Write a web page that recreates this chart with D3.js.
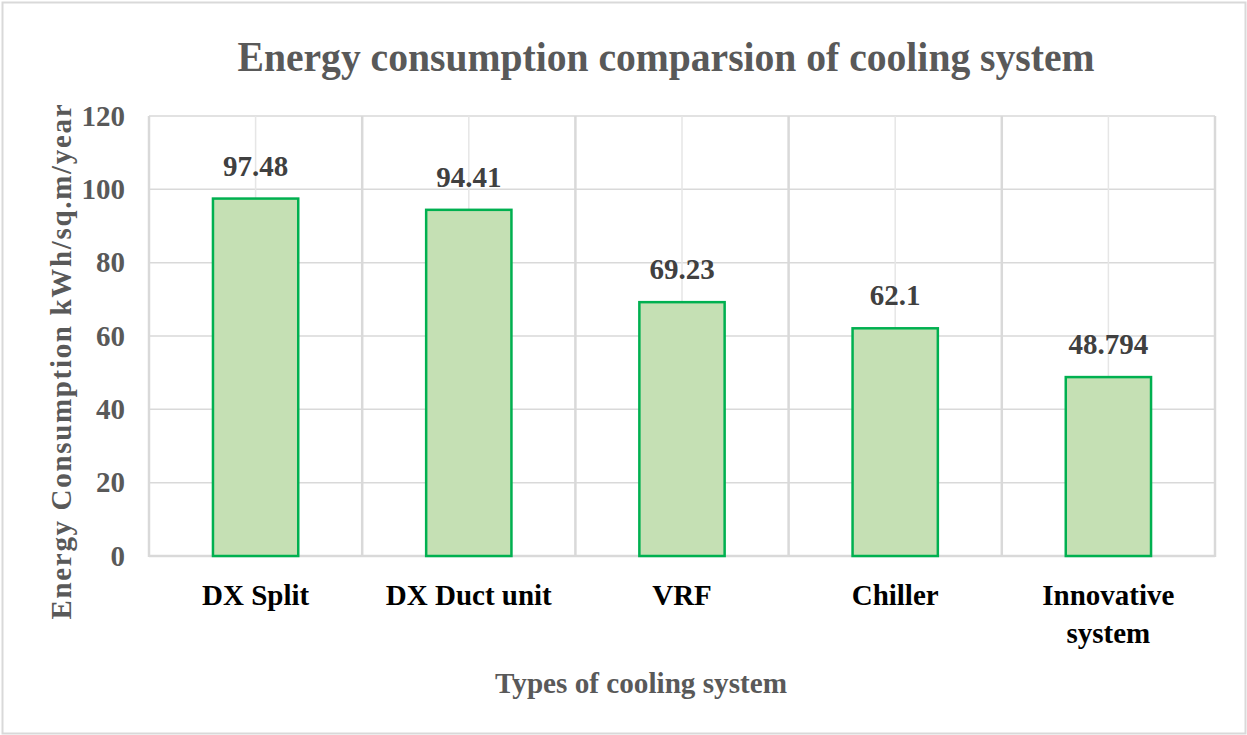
<!DOCTYPE html>
<html>
<head>
<meta charset="utf-8">
<script src="https://cdn.jsdelivr.net/npm/d3@7"></script>
<style>
  body { margin: 0; background: #fff; }
  text { font-family: "Liberation Serif", "Times New Roman", serif; font-weight: bold; }
</style>
</head>
<body>
<div id="chart"></div>
<script>
// Data
const categories = ["DX Split", "DX Duct unit", "VRF", "Chiller", "Innovative system"];
const consumption = [97.48, 94.41, 69.23, 62.1, 48.794];
const valueLabels = ["97.48", "94.41", "69.23", "62.1", "48.794"];
const yTicks = [0, 20, 40, 60, 80, 100, 120];

// Dimensions
const W = 1247, H = 735;
const margin = { top: 116, right: 32, bottom: 179, left: 149 };
const width = W - margin.left - margin.right;
const height = H - margin.top - margin.bottom;

const root = d3.select("#chart")
    .append("svg")
    .attr("width", W)
    .attr("height", H);

// Outer frame
root.append("rect")
    .attr("x", 2.5).attr("y", 2.5)
    .attr("width", W - 4).attr("height", H - 4)
    .attr("fill", "#fff")
    .attr("stroke", "#d9d9d9")
    .attr("stroke-width", 2);

// Title
root.append("text")
    .attr("x", 666)
    .attr("y", 71)
    .attr("text-anchor", "middle")
    .attr("fill", "#595959")
    .attr("textLength", 857)
    .attr("lengthAdjust", "spacingAndGlyphs")
    .style("font-size", "42px")
    .text("Energy consumption comparsion of cooling system");

const svg = root.append("g")
    .attr("transform", `translate(${margin.left},${margin.top})`);

// Scales
const x = d3.scaleBand()
    .domain(categories)
    .range([0, width])
    .paddingInner(0)
    .paddingOuter(0);

const y = d3.scaleLinear()
    .domain([0, 120])
    .range([height, 0]);

const barW = x.bandwidth() * 0.4;

// Horizontal gridlines
svg.selectAll(".hgrid")
    .data(yTicks)
    .join("line")
    .attr("class", "hgrid")
    .attr("x1", 0).attr("x2", width)
    .attr("y1", d => y(d)).attr("y2", d => y(d))
    .attr("stroke", "#d9d9d9")
    .attr("stroke-width", d => d === 0 ? 2.5 : 1.5);

// Vertical gridlines through category centres
svg.selectAll(".cgrid")
    .data(categories)
    .join("line")
    .attr("class", "cgrid")
    .attr("x1", d => x(d) + x.bandwidth() / 2)
    .attr("x2", d => x(d) + x.bandwidth() / 2)
    .attr("y1", 0).attr("y2", height)
    .attr("stroke", "#e6e6e6")
    .attr("stroke-width", 1.5);

// Vertical gridlines at category boundaries
const bounds = categories.map(d => x(d)).concat([width]);
svg.selectAll(".bgrid")
    .data(bounds)
    .join("line")
    .attr("class", "bgrid")
    .attr("x1", d => d).attr("x2", d => d)
    .attr("y1", 0).attr("y2", height + 1)
    .attr("stroke", "#d9d9d9")
    .attr("stroke-width", 2.5);

// Y axis tick labels
svg.append("g")
    .call(d3.axisLeft(y).tickValues(yTicks).tickSize(0).tickPadding(24))
    .call(g => g.select(".domain").remove())
    .call(g => g.selectAll("text")
        .attr("fill", "#595959")
        .style("font-size", "29px")
        .style("font-family", "'Liberation Serif', serif")
        .style("font-weight", "bold"));

// Bars
svg.selectAll(".bar")
    .data(categories)
    .join("rect")
    .attr("class", "bar")
    .attr("x", d => x(d) + (x.bandwidth() - barW) / 2)
    .attr("y", (d, i) => y(consumption[i]))
    .attr("width", barW)
    .attr("height", (d, i) => height - y(consumption[i]))
    .attr("fill", "#c5e0b4")
    .attr("stroke", "#00b050")
    .attr("stroke-width", 2.5);

// Value labels
svg.selectAll(".val")
    .data(categories)
    .join("text")
    .attr("class", "val")
    .attr("x", d => x(d) + x.bandwidth() / 2)
    .attr("y", (d, i) => y(consumption[i]) - 23)
    .attr("text-anchor", "middle")
    .attr("fill", "#404040")
    .style("font-size", "29px")
    .text((d, i) => valueLabels[i]);

// Category labels
const catLines = { "Innovative system": ["Innovative", "system"] };
svg.selectAll(".cat")
    .data(categories)
    .join("text")
    .attr("class", "cat")
    .attr("x", d => x(d) + x.bandwidth() / 2)
    .attr("y", height + 49)
    .attr("text-anchor", "middle")
    .attr("fill", "#000")
    .style("font-size", "29px")
    .each(function(d) {
        const lines = catLines[d] || [d];
        const t = d3.select(this);
        lines.forEach((ln, i) => {
            t.append("tspan")
                .attr("x", x(d) + x.bandwidth() / 2)
                .attr("dy", i === 0 ? 0 : 38)
                .text(ln);
        });
    });

// X axis title
svg.append("text")
    .attr("x", 641 - margin.left)
    .attr("y", 693 - margin.top)
    .attr("text-anchor", "middle")
    .attr("fill", "#595959")
    .attr("textLength", 292)
    .attr("lengthAdjust", "spacingAndGlyphs")
    .style("font-size", "30px")
    .text("Types of cooling system");

// Y axis title
svg.append("text")
    .attr("transform", "rotate(-90)")
    .attr("x", -(362 - margin.top))
    .attr("y", 71 - margin.left)
    .attr("text-anchor", "middle")
    .attr("fill", "#595959")
    .attr("textLength", 515)
    .attr("lengthAdjust", "spacing")
    .style("font-size", "29px")
    .text("Energy Consumption  kWh/sq.m/year");
</script>
</body>
</html>
